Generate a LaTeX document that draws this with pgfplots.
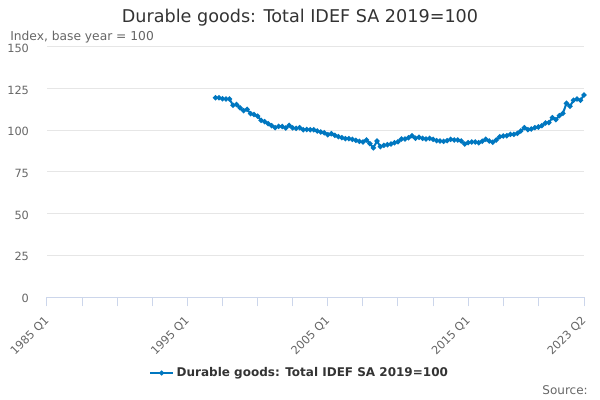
\documentclass[border=0pt]{standalone}
\usepackage{pgfplots}
\pgfplotsset{compat=1.18}
\usepackage{fontspec}
\setmainfont{DejaVu Sans}
\definecolor{series}{RGB}{0,119,192}
\definecolor{gridc}{RGB}{230,230,230}
\definecolor{axisc}{RGB}{204,214,235}
\definecolor{labc}{RGB}{102,102,102}
\definecolor{titc}{RGB}{51,51,51}
\begin{document}
\begin{tikzpicture}
\useasboundingbox (0,0) rectangle (450pt,300pt);
\node[font=\fontsize{13.2}{15}\selectfont, text=titc] at (225pt,287pt) {Durable goods: Total IDEF SA 2019=100};
\node[font=\fontsize{9.2}{11}\selectfont, text=labc, anchor=west, inner sep=0pt] at (7.5pt,272pt) {Index, base year = 100};
\node[font=\fontsize{9}{11}\selectfont, text=labc, anchor=east, inner sep=0pt] at (441pt,7.5pt) {Source:};
\begin{axis}[
  at={(35.25pt,77.25pt)}, anchor=south west,
  scale only axis, width=402.75pt, height=187.5pt,
  xmin=0, xmax=153, ymin=0, ymax=150,
  axis x line*=bottom, axis y line*=left,
  x axis line style={axisc, line width=0.75pt, -},
  y axis line style={draw=none},
  ytick={0,25,...,150},
  ymajorgrids, grid style={gridc, line width=0.75pt},
  y tick style={draw=none},
  yticklabel style={font=\fontsize{8.5}{10}\selectfont, text=labc, anchor=east, xshift=-3pt, yshift=-1pt},
  xtick={0,40,80,120,153},
  xticklabels={1985 Q1,1995 Q1,2005 Q1,2015 Q1,2023 Q2},
  minor xtick={10,20,30,50,60,70,90,100,110,130,140},
  x tick style={axisc, line width=0.75pt},
  major tick length=7pt, minor tick length=7pt, tick align=outside,
  xticklabel style={font=\fontsize{8.5}{10}\selectfont, text=labc, xshift=2.5pt, yshift=-7pt, rotate=45, anchor=east},
  /pgf/number format/assume math mode=true,
  legend style={at={(0.471,-0.304)}, anchor=center, draw=none, fill=none, font=\bfseries\fontsize{9}{11}\selectfont, text=titc},
  legend image post style={mark size=1pt},
  clip=false,
]
\addplot[series, line width=1.5pt, mark=*, mark size=1.1pt, mark options={solid}] coordinates {
(48,119.5)(49,119.5)(50,119.0)(51,118.8)(52,118.8)(53,115.0)(54,115.5)(55,113.5)
(56,111.8)(57,112.6)(58,110.0)(59,109.5)(60,108.5)(61,106.0)(62,105.2)(63,104.0)
(64,102.8)(65,101.6)(66,102.4)(67,102.3)(68,101.4)(69,103.0)(70,101.5)(71,101.2)
(72,101.6)(73,100.4)(74,100.5)(75,100.4)(76,100.3)(77,99.6)(78,99.0)(79,98.6)
(80,97.4)(81,98.0)(82,97.0)(83,96.2)(84,95.6)(85,95.0)(86,95.0)(87,94.6)
(88,94.0)(89,93.4)(90,93.0)(91,94.2)(92,92.0)(93,89.5)(94,93.6)(95,90.2)
(96,91.0)(97,91.4)(98,91.8)(99,92.6)(100,93.2)(101,94.8)(102,94.8)(103,95.6)
(104,96.8)(105,95.2)(106,95.8)(107,95.2)(108,94.8)(109,95.2)(110,94.6)(111,93.8)
(112,93.6)(113,93.4)(114,93.8)(115,94.6)(116,94.2)(117,94.2)(118,93.6)(119,91.8)
(120,92.6)(121,93.0)(122,93.0)(123,92.6)(124,93.4)(125,94.6)(126,93.6)(127,92.8)
(128,94.2)(129,96.2)(130,96.6)(131,96.8)(132,97.6)(133,97.6)(134,98.2)(135,99.6)
(136,101.6)(137,100.4)(138,100.8)(139,101.6)(140,102.0)(141,102.8)(142,104.4)(143,104.6)
(144,107.6)(145,106.4)(146,108.8)(147,110.2)(148,116.2)(149,114.4)(150,118.0)(151,118.8)
(152,118.0)(153,121.2)
};
\addlegendentry{Durable goods: Total IDEF SA 2019=100}
\end{axis}
\end{tikzpicture}
\end{document}
